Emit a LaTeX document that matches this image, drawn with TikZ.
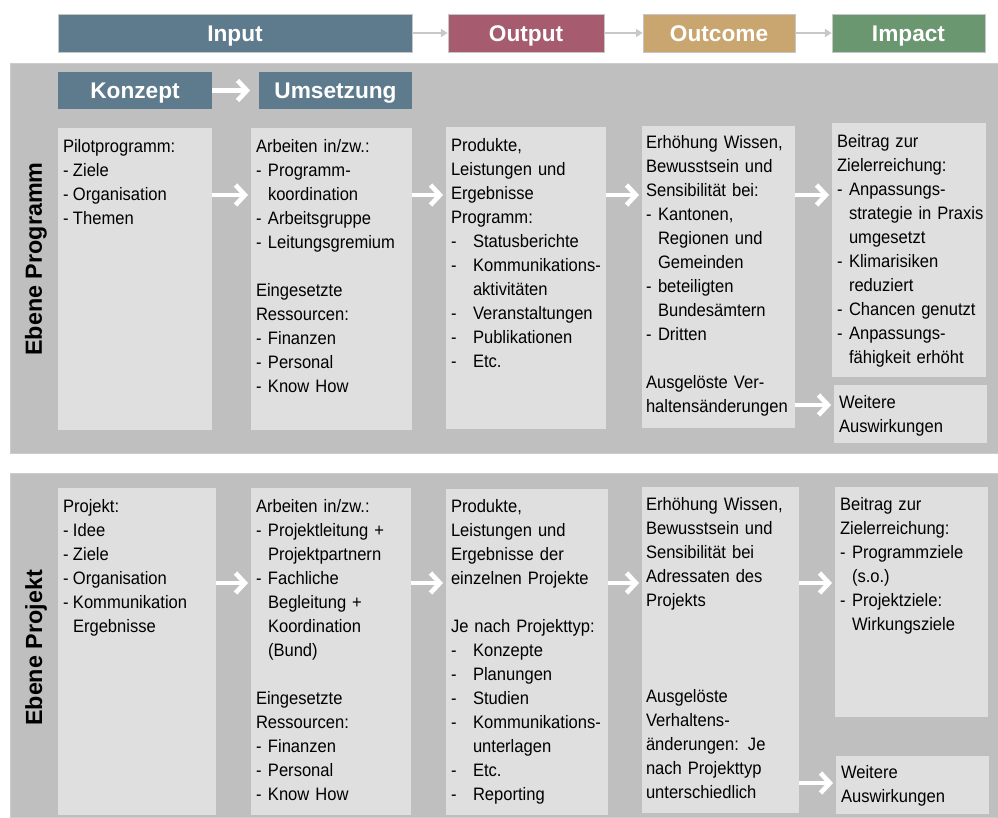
\documentclass[tikz,border=0pt]{standalone}
\usepackage{fontspec}
\setmainfont{Liberation Sans}
\newfontfamily\narrowsans[FakeStretch=0.92]{Liberation Sans}
\usepackage{tikz}
\usetikzlibrary{arrows.meta,fit}
\definecolor{hdblue}{HTML}{5E7B8D}
\definecolor{hdred}{HTML}{A65B6E}
\definecolor{hdsand}{HTML}{C9A66F}
\definecolor{hdgreen}{HTML}{6A9670}
\definecolor{panelgray}{HTML}{BFBFBF}
\definecolor{cellgray}{HTML}{DFDFDF}
\definecolor{linkgray}{HTML}{C8C8C8}
\newcommand{\bul}[1][9pt]{\makebox[#1][l]{-}}
\newcommand{\cont}[1][9pt]{\hspace*{#1}}

\begin{document}
\begin{tikzpicture}[x=0.75pt,y=-0.75pt]
\tikzstyle{every node}+=[inner sep=0pt]
\tikzstyle{panel}=[fill=panelgray,draw=gray!40,line width=0.5pt]
\tikzstyle{cell}=[fill=cellgray]
\tikzstyle{head}=[draw=white!55!gray,line width=0.6pt]
\tikzstyle{htext}=[text=white,font=\bfseries\fontsize{17pt}{20pt}\selectfont,text height=12.2pt,text depth=0pt]
\tikzstyle{side}=[rotate=90,font=\bfseries\fontsize{17.5pt}{20pt}\selectfont]
\tikzstyle{body}=[anchor=base west,text width=120pt,align=left,font=\narrowsans\fontsize{13.5pt}{18pt}\selectfont]
\tikzstyle{link}=[linkgray,line width=1.5pt,-{Triangle[length=5pt,width=6pt]}]
\tikzstyle{flow}=[white,line width=3.5pt,-{Straight Barb[length=7pt,width=15pt]}]
\useasboundingbox (0,0) rectangle (998,817);

% top row
\node[head,fill=hdblue,fit={(58,14)(412,52)},label={[htext]center:Input}] (inp) {};
\node[head,fill=hdred,fit={(448,14)(604,52)},label={[htext]center:Output}] (outp) {};
\node[head,fill=hdsand,fit={(643,14)(795,52)},label={[htext]center:Outcome}] (outc) {};
\node[head,fill=hdgreen,fit={(832,14)(985,52)},label={[htext]center:Impact}] (imp) {};
\draw[link] (inp) -- (outp);
\draw[link] (outp) -- (outc);
\draw[link] (outc) -- (imp);

% Ebene Programm
\node[panel,fit={(10,63)(998,453)}] (prog) {};
\node[side] (lprog) at (36,259) {Ebene Programm};
\node[fill=hdblue,fit={(58,72)(212,109)},label={[htext]center:Konzept}] (konz) {};
\node[fill=hdblue,fit={(259,72)(412,109)},label={[htext]center:Umsetzung}] (ums) {};
\draw[flow,shorten >=6.5pt] (konz.east) -- (ums.west);

\node[cell,fit={(58,128)(212,430)}] (p1) {};
\node[cell,fit={(251,128)(412,430)}] (p2) {};
\node[cell,fit={(446,127)(606,429)}] (p3) {};
\node[cell,fit={(642,126)(795,428)}] (p4) {};
\node[cell,fit={(832,123)(986,377)}] (p5) {};
\node[cell,fit={(834,385)(987,443)}] (p6) {};

\node[body] (p1t) at ([shift={(5,25)}]p1.north west) {Pilotprogramm:\\
\bul[7.5pt]Ziele\\ \bul[7.5pt]Organisation\\ \bul[7.5pt]Themen};
\node[body] (p2t) at ([shift={(5,25)}]p2.north west) {Arbeiten in/zw.:\\
\bul Programm-\\ \cont koordination\\ \bul Arbeitsgruppe\\ \bul Leitungsgremium\\[18pt]
Eingesetzte\\ Ressourcen:\\ \bul Finanzen\\ \bul Personal\\ \bul Know How};
\node[body] (p3t) at ([shift={(5,25)}]p3.north west) {Produkte,\\ Leistungen und\\ Ergebnisse\\ Programm:\\
\bul[16.5pt]Statusberichte\\ \bul[16.5pt]Kommunikations-\\ \cont[16.5pt]aktivitäten\\
\bul[16.5pt]Veranstaltungen\\ \bul[16.5pt]Publikationen\\ \bul[16.5pt]Etc.};
\node[body] (p4t) at ([shift={(4,23)}]p4.north west) {Erhöhung Wissen,\\ Bewusstsein und\\ Sensibilität bei:\\
\bul Kantonen,\\ \cont Regionen und\\ \cont Gemeinden\\ \bul beteiligten\\ \cont Bundesämtern\\ \bul Dritten\\[18pt]
Ausgelöste Ver-\\ haltensänderungen};
\node[body] (p5t) at ([shift={(5,25)}]p5.north west) {Beitrag zur\\ Zielerreichung:\\
\bul Anpassungs-\\ \cont strategie in Praxis\\ \cont umgesetzt\\ \bul Klimarisiken\\ \cont reduziert\\
\bul Chancen genutzt\\ \bul Anpassungs-\\ \cont fähigkeit erhöht};
\node[body] (p6t) at ([shift={(5,24)}]p6.north west) {Weitere\\ Auswirkungen};

\draw[flow,shorten >=2pt] (p1.east |- 0,195) -- (p2.west |- 0,195);
\draw[flow,shorten >=2pt] (p2.east |- 0,195) -- (p3.west |- 0,195);
\draw[flow,shorten >=2pt] (p3.east |- 0,195) -- (p4.west |- 0,195);
\draw[flow,shorten >=2pt] (p4.east |- 0,195) -- (p5.west |- 0,195);
\draw[flow,shorten >=2pt] (p4.east |- 0,405) -- (p6.west |- 0,405);

% Ebene Projekt
\node[panel,fit={(10,473)(998,817)}] (proj) {};
\node[side] (lproj) at (36,648) {Ebene Projekt};

\node[cell,fit={(58,488)(216,815)}] (q1) {};
\node[cell,fit={(251,488)(411,815)}] (q2) {};
\node[cell,fit={(446,489)(608,815)}] (q3) {};
\node[cell,fit={(642,487)(799,813)}] (q4) {};
\node[cell,fit={(835,487)(988,717)}] (q5) {};
\node[cell,fit={(836,756)(989,814)}] (q6) {};

\node[body] (q1t) at ([shift={(5,25)}]q1.north west) {Projekt:\\
\bul[7.5pt]Idee\\ \bul[7.5pt]Ziele\\ \bul[7.5pt]Organisation\\ \bul[7.5pt]Kommunikation\\ \cont[7.5pt]Ergebnisse};
\node[body] (q2t) at ([shift={(5,25)}]q2.north west) {Arbeiten in/zw.:\\
\bul Projektleitung +\\ \cont Projektpartnern\\ \bul Fachliche\\ \cont Begleitung +\\ \cont Koordination\\ \cont (Bund)\\[18pt]
Eingesetzte\\ Ressourcen:\\ \bul Finanzen\\ \bul Personal\\ \bul Know How};
\node[body] (q3t) at ([shift={(5,24)}]q3.north west) {Produkte,\\ Leistungen und\\ Ergebnisse der\\ einzelnen Projekte\\[18pt]
Je nach Projekttyp:\\ \bul[16.5pt]Konzepte\\ \bul[16.5pt]Planungen\\ \bul[16.5pt]Studien\\
\bul[16.5pt]Kommunikations-\\ \cont[16.5pt]unterlagen\\ \bul[16.5pt]Etc.\\ \bul[16.5pt]Reporting};
\node[body] (q4t) at ([shift={(4,24)}]q4.north west) {Erhöhung Wissen,\\ Bewusstsein und\\ Sensibilität bei\\ Adressaten des\\ Projekts\\[54pt]
Ausgelöste\\ Verhaltens-\\ änderungen: Je\\ nach Projekttyp\\ unterschiedlich};
\node[body] (q5t) at ([shift={(5,24)}]q5.north west) {Beitrag zur\\ Zielerreichung:\\
\bul Programmziele\\ \cont (s.o.)\\ \bul Projektziele:\\ \cont Wirkungsziele};
\node[body] (q6t) at ([shift={(5,23)}]q6.north west) {Weitere\\ Auswirkungen};

\draw[flow,shorten >=2pt] (q1.east |- 0,583) -- (q2.west |- 0,583);
\draw[flow,shorten >=2pt] (q2.east |- 0,583) -- (q3.west |- 0,583);
\draw[flow,shorten >=2pt] (q3.east |- 0,583) -- (q4.west |- 0,583);
\draw[flow,shorten >=2pt] (q4.east |- 0,583) -- (q5.west |- 0,583);
\draw[flow,shorten >=2pt] (q4.east |- 0,783) -- (q6.west |- 0,783);
\end{tikzpicture}
\end{document}
